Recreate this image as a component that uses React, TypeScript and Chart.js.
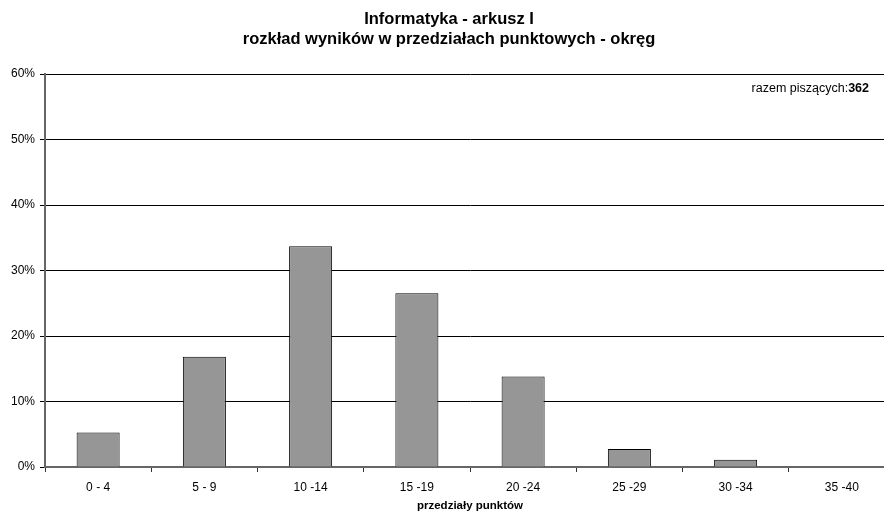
import React, { useEffect, useRef } from "react";
import { Chart, registerables } from "chart.js";

Chart.register(...registerables);

// Score ranges (points) and share of test-takers in each range, in percent
const categories = ["0 - 4", "5 - 9", "10 -14", "15 -19", "20 -24", "25 -29", "30 -34", "35 -40"];
const shares = [5.25, 16.85, 33.7, 26.52, 13.81, 2.76, 1.1, 0];
const yTicks = [0, 10, 20, 30, 40, 50, 60];
const totalWriters = 362;

const titleLines = ["Informatyka - arkusz I", "rozkład wyników w przedziałach punktowych - okręg"];
const xAxisTitle = "przedziały punktów";
const totalLabel = "razem piszących:";

const FONT = "'Liberation Sans', Arial, sans-serif";

// Draws the two-line heading and the "total writers" note in the plot corner
const overlayPlugin = {
  id: "overlayText",
  afterDraw(chart: any) {
    const { ctx, width, chartArea } = chart;
    ctx.save();
    ctx.fillStyle = "#000";
    ctx.textAlign = "center";
    ctx.textBaseline = "middle";
    ctx.font = `bold 16.5px ${FONT}`;
    ctx.fillText(titleLines[0], width / 2, 19);
    ctx.fillText(titleLines[1], width / 2, 39);

    ctx.font = `bold 12.5px ${FONT}`;
    const num = String(totalWriters);
    const numW = ctx.measureText(num).width;
    const right = 869;
    const y = chartArea.top + 15;
    ctx.textAlign = "left";
    ctx.fillText(num, right - numW, y);
    ctx.font = `12.5px ${FONT}`;
    const lblW = ctx.measureText(totalLabel).width;
    ctx.fillText(totalLabel, right - numW - lblW, y);
    ctx.restore();
  },
};

export default function App() {
  const canvasRef = useRef<HTMLCanvasElement | null>(null);

  useEffect(() => {
    const canvas = canvasRef.current;
    if (!canvas) return;
    const chart = new Chart(canvas, {
      type: "bar",
      data: {
        labels: categories,
        datasets: [
          {
            data: shares,
            backgroundColor: "#969696",
            borderColor: "#000",
            borderWidth: 1,
            categoryPercentage: 1,
            barPercentage: 0.405,
          },
        ],
      },
      plugins: [overlayPlugin],
      options: {
        responsive: false,
        animation: false,
        devicePixelRatio: 1,
        layout: { padding: { top: 74, right: 3, left: 0, bottom: 0 } },
        plugins: {
          legend: { display: false },
          tooltip: { enabled: false },
          title: { display: false },
        },
        scales: {
          x: {
            offset: true,
            grid: {
              offset: true,
              drawOnChartArea: false,
              drawTicks: true,
              tickLength: 5,
              color: "#333",
              lineWidth: 1,
            },
            border: { color: "#666", width: 2 },
            ticks: {
              color: "#000",
              padding: 8,
              font: { family: FONT, size: 12 },
              maxRotation: 0,
              autoSkip: false,
            },
            title: {
              display: true,
              text: xAxisTitle,
              color: "#000",
              font: { family: FONT, size: 11.5, weight: "bold" },
              padding: { top: 0, bottom: 0 },
            },
            afterFit(scale: any) {
              scale.height = 46;
            },
          },
          y: {
            min: 0,
            max: 60,
            afterBuildTicks(scale: any) {
              scale.ticks = yTicks.map((v) => ({ value: v }));
            },
            grid: {
              color: "#000",
              lineWidth: 1,
              tickLength: 5,
            },
            border: { color: "#666", width: 2 },
            ticks: {
              color: "#000",
              padding: 5,
              font: { family: FONT, size: 12 },
              callback: (v: any) => `${v}%`,
            },
            afterFit(scale: any) {
              scale.width = 45;
            },
          },
        },
      },
    });
    return () => chart.destroy();
  }, []);

  return (
    <div
      style={{
        position: "fixed",
        left: 0,
        top: 0,
        width: 884,
        height: 513,
        overflow: "hidden",
        background: "#fff",
      }}
    >
      <canvas ref={canvasRef} width={898} height={513} style={{ display: "block" }} />
    </div>
  );
}
